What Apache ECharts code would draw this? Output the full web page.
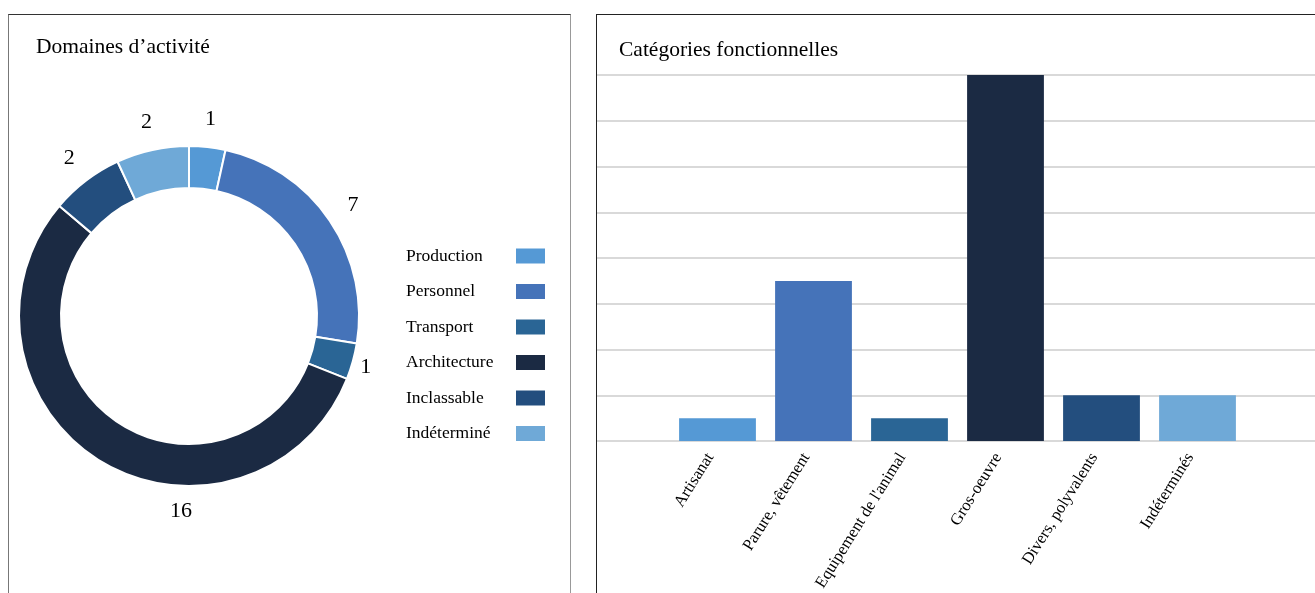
<!DOCTYPE html>
<html>
<head>
<meta charset="utf-8">
<script src="https://cdn.jsdelivr.net/npm/echarts@6/dist/echarts.min.js"></script>
<style>
	body { margin: 0; background: #fff; overflow: hidden; }
	.panel { position: absolute; top: 14px; height: 600px; border: 1px solid #333; }
	#domaines { left: 8px; width: 561px; border-left-color: #777; border-right-color: #999; }
	#categories { left: 596px; width: 740px; border-color: #222; }
</style>
</head>
<body>
<div class="panel" id="domaines"></div>
<div class="panel" id="categories"></div>
<script>
// Domaines d'activité
var domaineNames = ['Production', 'Personnel', 'Transport', 'Architecture', 'Inclassable', 'Indéterminé'];
var domaineValues = [1, 7, 1, 16, 2, 2];

// Catégories fonctionnelles
var categorieNames = ['Artisanat', 'Parure, vêtement', "Equipement de l'animal", 'Gros-oeuvre', 'Divers, polyvalents', 'Indéterminés'];
var categorieValues = [1, 7, 1, 16, 2, 2];

var palette = ['#5599d5', '#4573b9', '#2a6595', '#1b2a43', '#234e7e', '#6fa9d7'];
var serif = 'Liberation Serif';

var Charts = {

	init: function () {
		this.renderPie();
		this.renderBars();
	},

	// donut
	renderPie: function () {
		var myChart = echarts.init(document.getElementById('domaines'));
		var data = domaineNames.map(function (name, i) {
			return { name: name, value: domaineValues[i], itemStyle: { color: palette[i] } };
		});
		var option = {
			animation: false,
			title: {
				text: 'Domaines d’activité',
				left: 27,
				top: 21,
				padding: 0,
				textStyle: { fontFamily: serif, fontSize: 21.5, fontWeight: 'normal', color: '#000' }
			},
			legend: {
				orient: 'vertical',
				left: 392,
				top: 226.5,
				align: 'right',
				itemWidth: 31,
				itemHeight: 17,
				itemGap: 16.5,
				icon: 'rect',
				formatter: '{a|{name}}',
				textStyle: {
					fontFamily: serif,
					fontSize: 17.5,
					lineHeight: 17,
					color: '#000',
					rich: { a: { width: 104, align: 'left', lineHeight: 17, fontFamily: serif, fontSize: 17.5 } }
				},
				data: domaineNames
			},
			series: [{
				type: 'pie',
				center: [180, 301],
				radius: [128, 170],
				startAngle: 90,
				clockwise: true,
				avoidLabelOverlap: false,
				itemStyle: { borderColor: '#fff', borderWidth: 2 },
				label: {
					show: true,
					position: 'outside',
					formatter: '{c}',
					distanceToLabelLine: 0,
					fontFamily: serif,
					fontSize: 22,
					color: '#000'
				},
				labelLine: { show: false, length: 28, length2: 0 },
				labelLayout: function (params) {
					// labels centred on their anchor; Transport and Architecture are nudged
					if (params.dataIndex === 2) {
						return { align: 'center', dx: -14, dy: -2 };
					}
					if (params.dataIndex === 3) {
						return { align: 'center', dx: 94, dy: 26 };
					}
					return { align: 'center' };
				},
				emphasis: { disabled: true },
				data: data
			}]
		};
		myChart.setOption(option);
	},

	// histogramme
	renderBars: function () {
		var myChart = echarts.init(document.getElementById('categories'));
		var data = categorieValues.map(function (v, i) {
			return { value: v, itemStyle: { color: palette[i] } };
		});
		var option = {
			animation: false,
			title: {
				text: 'Catégories fonctionnelles',
				left: 22,
				top: 24,
				padding: 0,
				textStyle: { fontFamily: serif, fontSize: 21.5, fontWeight: 'normal', color: '#000' }
			},
			grid: [
				{ left: 0, right: 0, top: 60, height: 366 },
				{ left: 72.5, width: 576, top: 60, height: 366 }
			],
			xAxis: [
				{ gridIndex: 0, type: 'value', show: false },
				{
					gridIndex: 1,
					type: 'category',
					data: categorieNames,
					axisLine: { show: false },
					axisTick: { show: false },
					axisLabel: {
						rotate: 58,
						margin: 18,
						interval: 0,
						verticalAlign: 'bottom',
						fontFamily: serif,
						fontSize: 16.5,
						color: '#000'
					}
				}
			],
			yAxis: [
				{
					gridIndex: 0,
					type: 'value',
					min: 0,
					max: 16,
					interval: 2,
					axisLabel: { show: false },
					axisLine: { show: false },
					axisTick: { show: false },
					splitLine: { lineStyle: { color: '#d9d9d9', width: 2 } }
				},
				{ gridIndex: 1, type: 'value', min: 0, max: 16, show: false, splitLine: { show: false } }
			],
			series: [{
				type: 'bar',
				xAxisIndex: 1,
				yAxisIndex: 1,
				barCategoryGap: '20%',
				z: 3,
				data: data
			}]
		};
		myChart.setOption(option);
	}
};

Charts.init();
</script>
</body>
</html>
